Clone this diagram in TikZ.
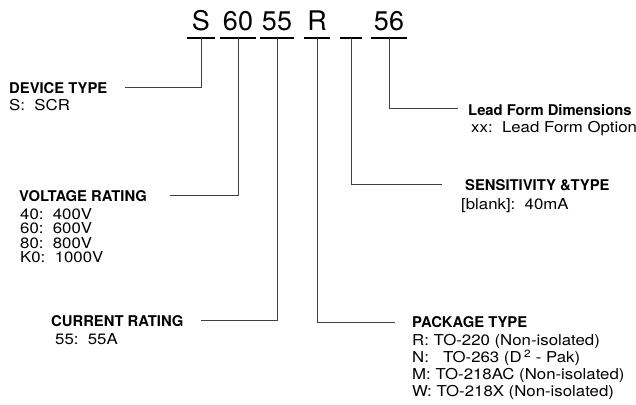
\documentclass[tikz,border=0pt]{standalone}
\usepackage{fontspec}
\setmainfont{TeX Gyre Heros}
\newfontfamily\widefont{TeX Gyre Heros}[FakeStretch=1.12]
\usetikzlibrary{positioning}

\begin{document}
\begin{tikzpicture}[
    x=1pt, y=-1pt,
    digit/.style={inner sep=0pt, anchor=south, text height=19pt, text depth=7pt, font=\fontsize{27}{27}\selectfont},
    under/.style={line width=2.4pt},
    lead/.style={line width=1pt, draw=black!75},
    head/.style={inner sep=0pt, anchor=base west, font=\fontsize{14.8}{14.8}\selectfont\bfseries},
    item/.style={inner sep=0pt, anchor=north west, align=left, font=\widefont\fontsize{15}{15}\selectfont}
]
\useasboundingbox (0,0) rectangle (636,404);

% Bestellnummer
\node[digit, minimum width=27pt] (s) at (201,38) {S};
\node[digit, minimum width=35pt] (v) at (238,38) {60};
\node[digit, minimum width=33pt] (c) at (277,38) {55};
\node[digit, minimum width=25pt] (p) at (317,38) {R};
\node[digit, minimum width=21pt] (t) at (351,38) {};
\node[digit, minimum width=36pt] (l) at (389,38) {56};
\foreach \n in {s,v,c,p,t,l}
    \draw[under] (\n.south west) -- (\n.south east);

% Beschriftungen links
\node[head] (devhead) at (9,93) {DEVICE TYPE};
\node[item] (devitem) at (9,99) {S:\ \ SCR};

\node[head] (volthead) at (19,201) {VOLTAGE RATING};
\node[item, font=\widefont\fontsize{15}{14.6}\selectfont] (voltitem) at (20,208) {40:\ \ 400V\\60:\ \ 600V\\80:\ \ 800V\\K0:\ \ 1000V};

\node[head] (curhead) at (51,326) {CURRENT RATING};
\node[item] (curitem) at (55,333) {55:\ \ 55A};

% Beschriftungen rechts
\node[head] (pkghead) at (412,327) {PACKAGE TYPE};
\node[item, font=\widefont\fontsize{15}{17}\selectfont] (pkgitem) at (412,334) {R: TO-220 (Non-isolated)\\N:\ \ \ TO-263 (D\,\textsuperscript{2} - Pak)\\M: TO-218AC (Non-isolated)\\W: TO-218X (Non-isolated)};

\node[head] (senshead) at (465,190) {SENSITIVITY \&TYPE};
\node[item] (sensitem) at (461,198) {[blank]:\ \ 40mA};

\node[head] (leadhead) at (468,115) {Lead Form Dimensions};
\node[item] (leaditem) at (471,121) {xx:\ \ Lead Form Option};

% Verbindungslinien
\coordinate (devend) at (125,87);
\coordinate (voltend) at (170,195);
\coordinate (curend) at (201,320);
\coordinate (pkgend) at (395,322);
\coordinate (sensend) at (442,184);
\coordinate (leadend) at (458,108);
\draw[lead] (s.south) |- (devend);
\draw[lead] (v.south) |- (voltend);
\draw[lead] (c.south) |- (curend);
\draw[lead] (p.south) |- (pkgend);
\draw[lead] (t.south) |- (sensend);
\draw[lead] (l.south) |- (leadend);

\end{tikzpicture}
\end{document}
